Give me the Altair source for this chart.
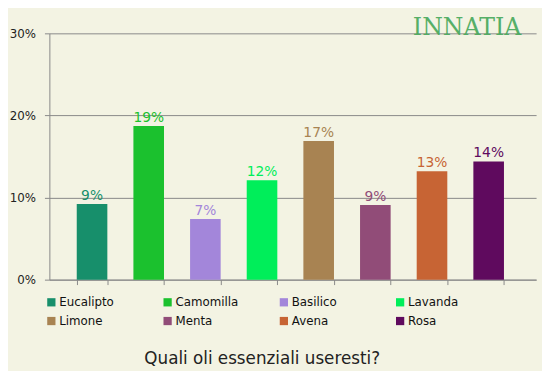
import altair as alt
import pandas as pd

categories = ["Eucalipto", "Camomilla", "Basilico", "Lavanda", "Limone", "Menta", "Avena", "Rosa"]
values = [0.092, 0.187, 0.074, 0.121, 0.169, 0.091, 0.132, 0.144]
colors = ["#178F6B", "#1BC12E", "#A386DA", "#00EE5A", "#A88352", "#914C78", "#C76434", "#5F0A5E"]
y_ticks = [0, 0.1, 0.2, 0.3]

df = pd.DataFrame({"oil": categories, "value": values})
df["label"] = [f"{round(v * 100)}%" for v in values]

FONT = "DejaVu Sans"

x_enc = alt.X(
    "oil:N",
    sort=categories,
    scale=alt.Scale(paddingInner=0.46, paddingOuter=0.525, align=0.46),
    axis=alt.Axis(
        title=None, labels=False, tickBand="extent", tickSize=5,
        tickColor="#888888", domainColor="#888888", grid=False,
    ),
)
y_enc = alt.Y(
    "value:Q",
    scale=alt.Scale(domain=[0, 0.3], nice=False),
    axis=alt.Axis(
        title=None, values=y_ticks, format=".0%", tickSize=5,
        tickColor="#888888", domainColor="#888888", gridColor="#888888",
        gridOpacity=1, labelColor="#222222", labelFontSize=12, labelFont=FONT,
        labelPadding=9,
    ),
)
color_enc = alt.Color(
    "oil:N",
    sort=categories,
    scale=alt.Scale(domain=categories, range=colors),
    legend=alt.Legend(
        title=None, orient="none", legendX=-4, legendY=267, direction="horizontal",
        columns=4, gridAlign="all", symbolType="square", symbolSize=70,
        symbolStrokeWidth=0, labelFont=FONT, labelFontSize=12, labelColor="#111111",
        columnPadding=40, rowPadding=7, labelOffset=2, padding=0,
    ),
)

bars = alt.Chart(df).mark_bar(opacity=1).encode(x=x_enc, y=y_enc, color=color_enc)
labels = alt.Chart(df).mark_text(
    baseline="bottom", dy=-1, fontSize=14, font=FONT
).encode(
    x=alt.X("oil:N", sort=categories),
    y="value:Q",
    text="label:N",
    color=alt.Color("oil:N", sort=categories, legend=None),
)
logo = alt.Chart(pd.DataFrame({"t": ["INNATIA"]})).mark_text(
    font="DejaVu Serif", fontSize=24, color="#45A85A", opacity=0.9,
    align="center", baseline="alphabetic",
).encode(text="t:N", x=alt.value(424), y=alt.value(2))

chart = alt.layer(bars, labels, logo).properties(
    width=494, height=250,
    autosize=alt.AutoSizeParams(type="none"),
    padding={"left": 42, "top": 23, "right": 6, "bottom": 90},
    background="#F3F3E3",
    title=alt.TitleParams(
        "Quali oli essenziali useresti?", orient="bottom", anchor="middle",
        font=FONT, fontSize=17, fontWeight="normal", color="#222222",
        offset=25, dx=-31,
    ),
).configure_view(stroke=None).configure_axis(labelFont=FONT)

chart.save("out.html", embed_options={"renderer": "svg", "actions": False})
